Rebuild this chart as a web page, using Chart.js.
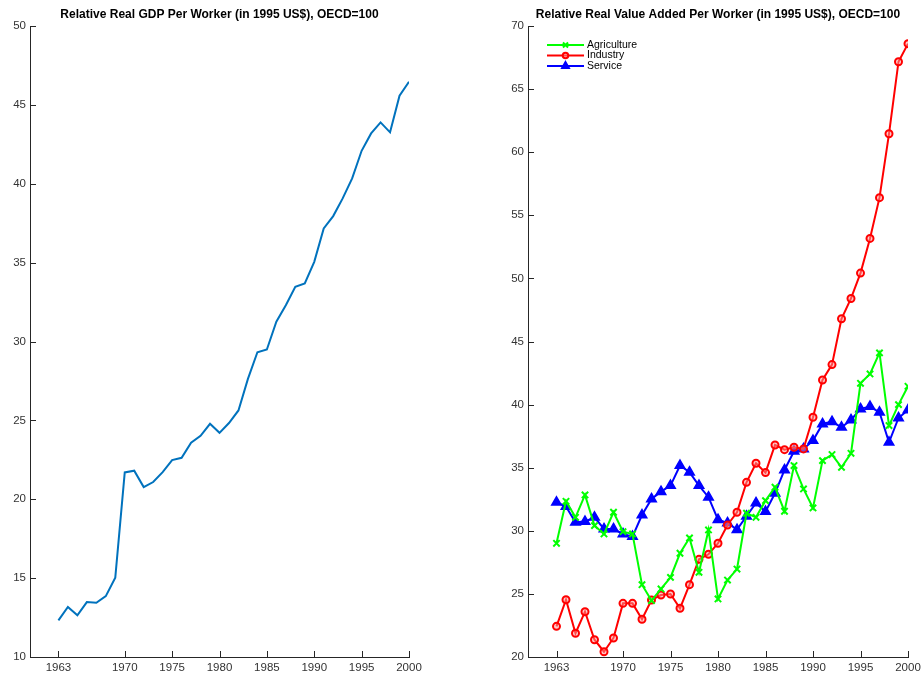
<!DOCTYPE html>
<html><head><meta charset="utf-8">
<script src="https://cdn.jsdelivr.net/npm/chart.js@4.4.0/dist/chart.umd.min.js"></script>
<style>
html,body{margin:0;padding:0;background:#fff;}
#wrap{position:relative;width:921px;height:673px;overflow:hidden;}
.c{position:absolute;top:0;height:673px;}
</style></head><body>
<div id="wrap">
<div class="c" style="left:0;width:460px;"><canvas id="c1"></canvas></div>
<div class="c" style="left:460px;width:461px;"><canvas id="c2"></canvas></div>
</div>
<script>
// ---- data ----
const years = [1963,1964,1965,1966,1967,1968,1969,1970,1971,1972,1973,1974,1975,1976,1977,1978,1979,1980,
  1981,1982,1983,1984,1985,1986,1987,1988,1989,1990,1991,1992,1993,1994,1995,1996,1997,1998,1999,2000];
const xTickYears = [1963,1970,1975,1980,1985,1990,1995,2000];

const gdpPerWorker = [12.32,13.17,12.64,13.48,13.44,13.86,15.03,21.70,21.81,20.77,21.09,21.72,22.48,22.63,
  23.58,24.02,24.78,24.21,24.83,25.63,27.63,29.32,29.49,31.25,32.30,33.47,33.68,35.05,37.17,37.95,39.07,
  40.34,42.09,43.19,43.89,43.26,45.58,46.47];

const agriculture = [29.01,32.34,31.07,32.84,30.41,29.75,31.47,29.93,29.75,25.73,24.47,25.39,26.31,28.22,
  29.43,26.71,30.07,24.60,26.10,26.97,31.39,31.07,32.39,33.45,31.55,35.17,33.32,31.81,35.56,36.04,35.03,
  36.14,41.69,42.43,44.10,38.34,40.00,41.45];
const industry = [22.43,24.54,21.88,23.59,21.37,20.42,21.51,24.25,24.25,22.99,24.52,24.91,24.99,23.86,
  25.73,27.74,28.14,29.01,30.46,31.47,33.84,35.35,34.61,36.80,36.43,36.62,36.49,39.00,41.95,43.17,46.80,
  48.41,50.42,53.17,56.40,61.46,67.17,68.60];
const service = [32.26,31.92,30.67,30.73,31.07,30.15,30.15,29.75,29.54,31.25,32.52,33.10,33.58,35.17,
  34.64,33.58,32.66,30.88,30.62,30.09,31.15,32.21,31.52,32.97,34.82,36.30,36.49,37.15,38.47,38.65,38.20,
  38.78,39.66,39.84,39.39,37.01,38.94,39.58];

const leftTitle = 'Relative Real GDP Per Worker (in 1995 US$), OECD=100';
const rightTitle = 'Relative Real Value Added Per Worker (in 1995 US$), OECD=100';

// ---- helpers ----
const pts = arr => years.map((yr, i) => ({x: yr, y: arr[i]}));
const AXIS = '#262626';
const LABEL = '#333333';
const FONT = '"Liberation Sans", Arial, sans-serif';

const innerTicks = {
  id: 'innerTicks',
  afterDraw(chart) {
    const {ctx, chartArea: a, scales: {x, y}} = chart;
    ctx.save();
    ctx.strokeStyle = AXIS; ctx.lineWidth = 1;
    ctx.beginPath();
    x.ticks.forEach(t => { const p = Math.round(x.getPixelForValue(t.value)) + 0.5; ctx.moveTo(p, a.bottom); ctx.lineTo(p, a.bottom - 6); });
    y.ticks.forEach(t => { const p = Math.round(y.getPixelForValue(t.value)) + 0.5; ctx.moveTo(a.left, p); ctx.lineTo(a.left + 6, p); });
    ctx.stroke();
    ctx.restore();
  }
};
const titlePlug = {
  id: 'mtitle',
  afterDraw(chart, args, opts) {
    const {ctx, chartArea: a} = chart;
    ctx.save();
    ctx.font = 'bold 12px ' + FONT;
    ctx.fillStyle = '#000';
    ctx.textAlign = 'center'; ctx.textBaseline = 'middle';
    ctx.fillText(opts.text, (a.left + a.right) / 2, 15);
    ctx.restore();
  }
};
const legendPlug = {
  id: 'mlegend',
  afterDraw(chart) {
    const {ctx, chartArea: a} = chart;
    ctx.save();
    chart.data.datasets.forEach((ds, i) => {
      const yy = 45 + i * 10.5;
      const x0 = a.left + 19, x1 = a.left + 56, xm = (x0 + x1) / 2;
      ctx.strokeStyle = ds.borderColor; ctx.lineWidth = 2;
      ctx.beginPath(); ctx.moveTo(x0, yy); ctx.lineTo(x1, yy); ctx.stroke();
      ctx.fillStyle = ds.pointBackgroundColor; ctx.strokeStyle = ds.borderColor; ctx.lineWidth = ds.pointBorderWidth;
      Chart.helpers.drawPoint(ctx, {pointStyle: ds.pointStyle, radius: ds.pointRadius * 0.8, rotation: 0, borderWidth: ds.pointBorderWidth}, xm, yy);
      ctx.font = '10.5px ' + FONT; ctx.fillStyle = '#000';
      ctx.textAlign = 'left'; ctx.textBaseline = 'middle';
      ctx.fillText(ds.label, x1 + 3, yy);
    });
    ctx.restore();
  }
};

function axes(yMin, yMax, yWidth) {
  return {
    x: {
      type: 'linear', min: 1960, max: 2000,
      afterBuildTicks: s => { s.ticks = xTickYears.map(v => ({value: v})); },
      afterFit: s => { s.height = 16; s.paddingLeft = 0; s.paddingRight = 0; },
      grid: {display: true, drawOnChartArea: false, drawTicks: false},
      border: {display: true, color: AXIS, width: 1},
      ticks: {padding: 4, color: LABEL, font: {family: FONT, size: 11.5}, maxRotation: 0, autoSkip: false, callback: v => String(v)}
    },
    y: {
      type: 'linear', min: yMin, max: yMax,
      afterFit: s => { s.width = yWidth; s.paddingTop = 0; s.paddingBottom = 0; },
      grid: {display: true, drawOnChartArea: false, drawTicks: false},
      border: {display: true, color: AXIS, width: 1},
      ticks: {stepSize: 5, padding: 4, color: LABEL, font: {family: FONT, size: 11.5}, callback: v => String(v)}
    }
  };
}

new Chart(document.getElementById('c1'), {
  type: 'line',
  data: {datasets: [{label: 'GDP per worker', data: pts(gdpPerWorker), borderColor: '#0072BD', borderWidth: 2, pointRadius: 0, tension: 0}]},
  options: {
    responsive: true, maintainAspectRatio: false, animation: false,
    layout: {padding: {top: 26, right: 51, bottom: 0, left: 0}},
    plugins: {legend: {display: false}, tooltip: {enabled: false}, mtitle: {text: leftTitle}},
    scales: axes(10, 50, 30)
  },
  plugins: [innerTicks, titlePlug]
});

new Chart(document.getElementById('c2'), {
  type: 'line',
  data: {datasets: [
    {label: 'Agriculture', data: pts(agriculture), borderColor: '#00FF00', borderWidth: 2, pointStyle: 'crossRot', pointRadius: 4.5, pointBorderWidth: 2, pointBackgroundColor: '#00FF00', pointBorderColor: '#00FF00'},
    {label: 'Industry', data: pts(industry), borderColor: '#FF0000', borderWidth: 2, pointStyle: 'circle', pointRadius: 3.5, pointBorderWidth: 2, pointBackgroundColor: 'rgba(255,150,150,0.5)', pointBorderColor: '#FF0000'},
    {label: 'Service', data: pts(service), borderColor: '#0000FF', borderWidth: 2, pointStyle: 'triangle', pointRadius: 5.5, pointBorderWidth: 1.5, pointBackgroundColor: '#0000FF', pointBorderColor: '#0000FF'}
  ]},
  options: {
    responsive: true, maintainAspectRatio: false, animation: false,
    layout: {padding: {top: 26, right: 13, bottom: 0, left: 0}},
    plugins: {legend: {display: false}, tooltip: {enabled: false}, mtitle: {text: rightTitle}},
    scales: axes(20, 70, 68)
  },
  plugins: [innerTicks, titlePlug, legendPlug]
});
</script>
</body></html>
